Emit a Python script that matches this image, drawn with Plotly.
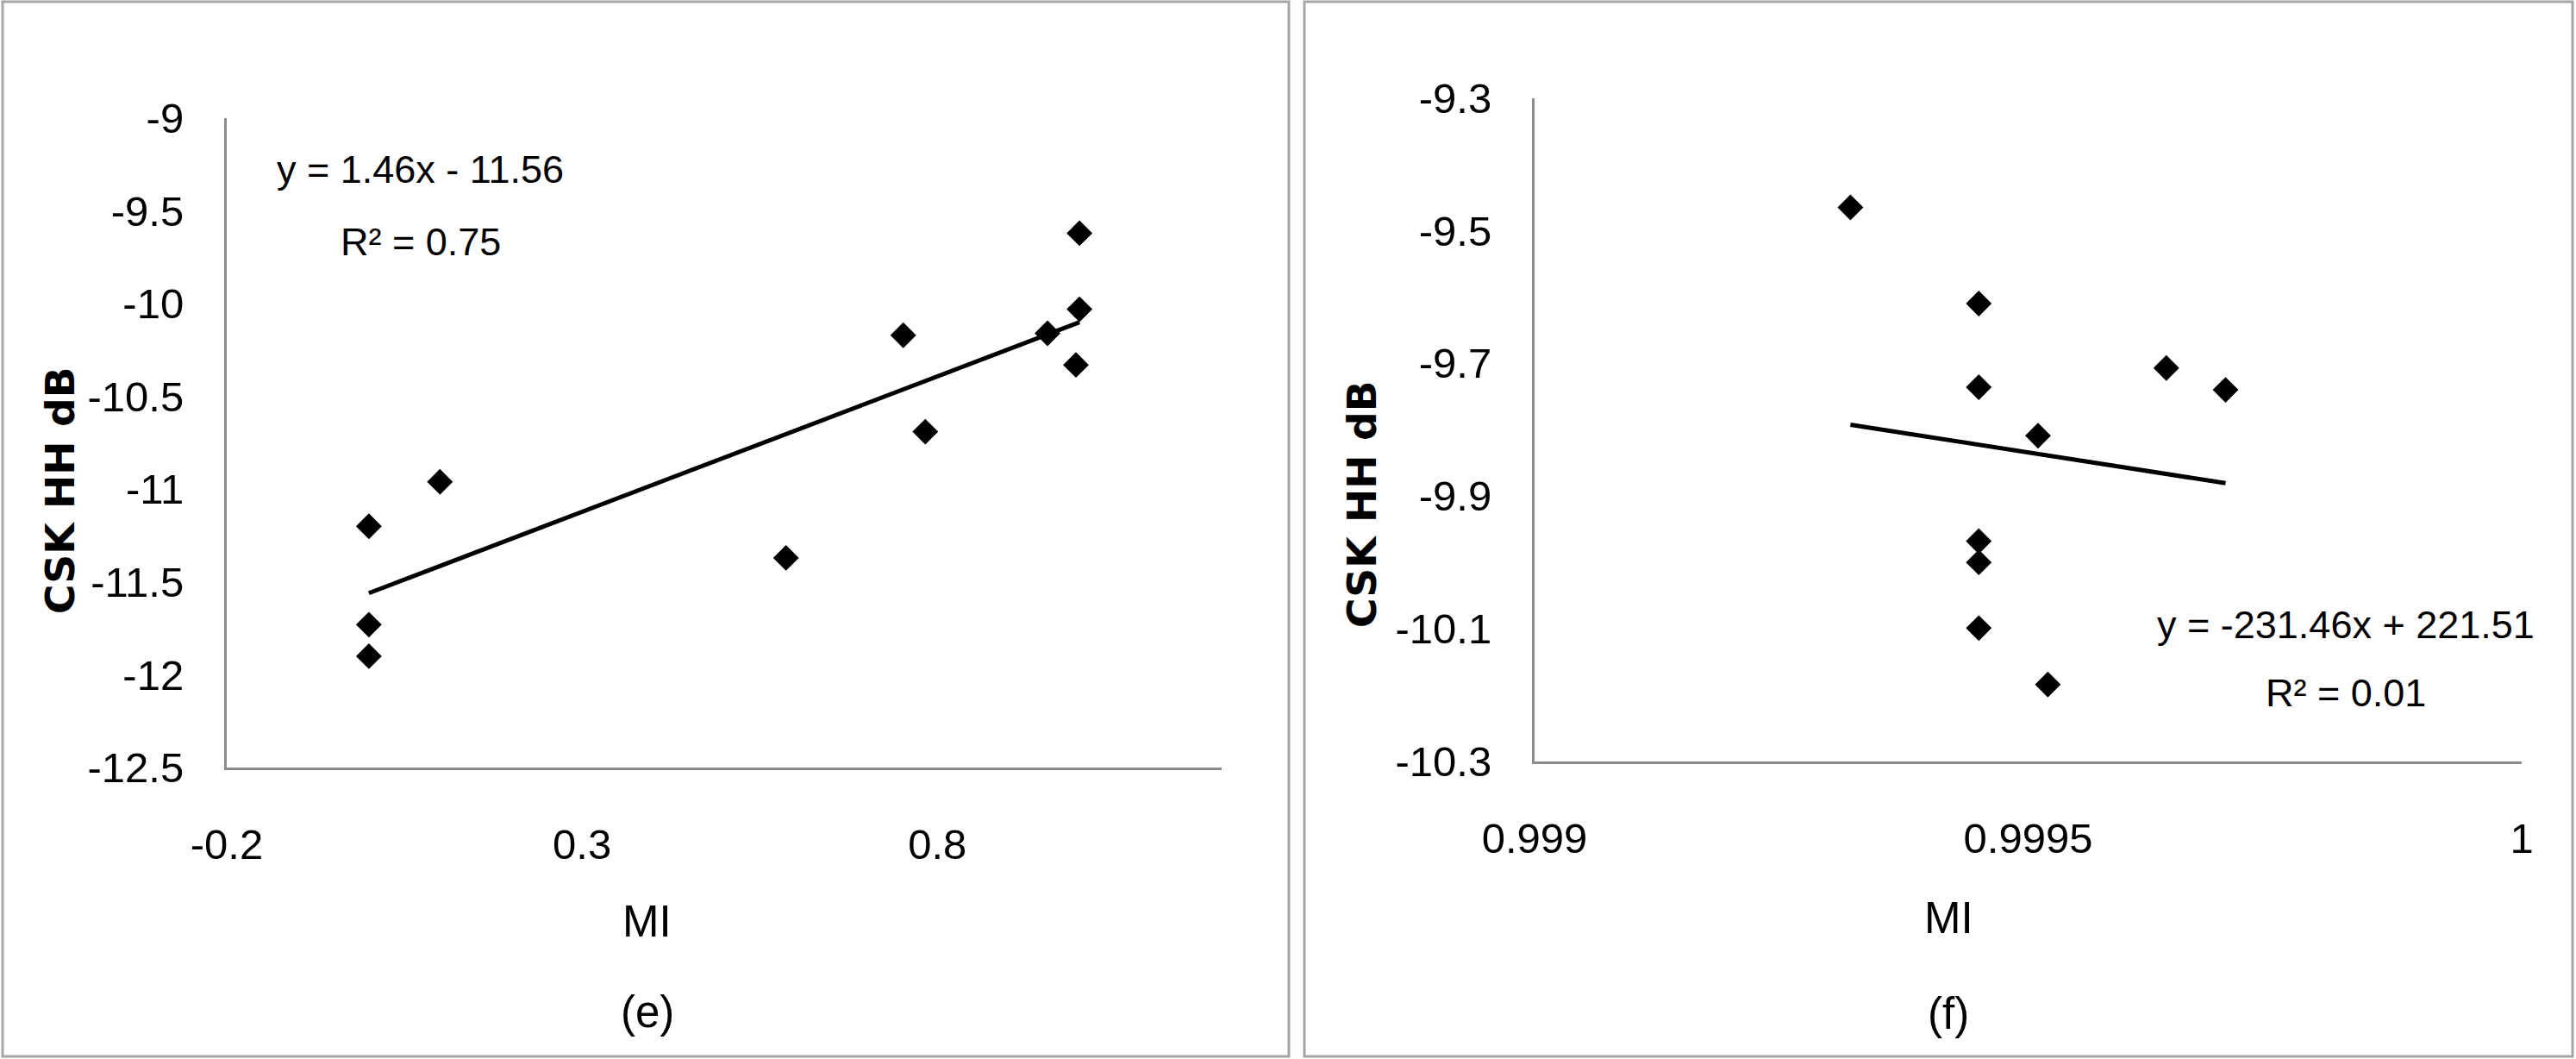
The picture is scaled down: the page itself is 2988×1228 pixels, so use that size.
import plotly.graph_objects as go

W, H = 2988, 1228

# ---------------- data: panel (e) ----------------
e_mi = [0.0, 0.0, 0.0, 0.10, 0.587, 0.752, 0.783, 0.955, 1.0, 1.0, 0.995]
e_hh = [-11.20, -11.73, -11.90, -10.96, -11.37, -10.17, -10.69, -10.16, -9.62, -10.03, -10.33]
e_slope, e_intercept = 1.46, -11.56
e_eq = "y = 1.46x - 11.56"
e_r2 = "R² = 0.75"
e_xtickvals = [-0.2, 0.3, 0.8]
e_xticktext = ["-0.2", "0.3", "0.8"]
e_ytickvals = [-9, -9.5, -10, -10.5, -11, -11.5, -12, -12.5]
e_yticktext = ["-9", "-9.5", "-10", "-10.5", "-11", "-11.5", "-12", "-12.5"]
e_label = "(e)"

# ---------------- data: panel (f) ----------------
f_mi = [0.99932, 0.99945, 0.99945, 0.99945, 0.99945, 0.99945, 0.99951, 0.99952, 0.99964, 0.99970]
f_hh = [-9.465, -9.61, -9.736, -9.968, -10.0, -10.099, -9.809, -10.184, -9.707, -9.74]
f_slope, f_intercept = -231.46, 221.51
f_eq = "y = -231.46x + 221.51"
f_r2 = "R² = 0.01"
f_xtickvals = [0.999, 0.9995, 1.0]
f_xticktext = ["0.999", "0.9995", "1"]
f_ytickvals = [-9.3, -9.5, -9.7, -9.9, -10.1, -10.3]
f_yticktext = ["-9.3", "-9.5", "-9.7", "-9.9", "-10.1", "-10.3"]
f_label = "(f)"

x_title = "MI"
y_title = "CSK HH dB"

FONT = "Liberation Sans, Arial, sans-serif"
BOLD = "DejaVu Sans, Liberation Sans, sans-serif"
AXIS_GRAY = "#8c8c8c"


def px(x):
    return x / W


def py(y):
    return 1 - y / H


fig = go.Figure()

# scatter points
fig.add_trace(go.Scatter(x=e_mi, y=e_hh, mode="markers",
                         marker=dict(symbol="diamond", size=23, color="black"),
                         xaxis="x", yaxis="y", showlegend=False))
fig.add_trace(go.Scatter(x=f_mi, y=f_hh, mode="markers",
                         marker=dict(symbol="diamond", size=23, color="black"),
                         xaxis="x2", yaxis="y2", showlegend=False))

# trendlines
e_tx = [min(e_mi), max(e_mi)]
e_ty = [e_slope * v + e_intercept for v in e_tx]
fig.add_trace(go.Scatter(x=e_tx, y=e_ty, mode="lines",
                         line=dict(color="black", width=5),
                         xaxis="x", yaxis="y", showlegend=False))
f_tx = [min(f_mi), max(f_mi)]
f_ty = [f_slope * v + f_intercept for v in f_tx]
fig.add_trace(go.Scatter(x=f_tx, y=f_ty, mode="lines",
                         line=dict(color="black", width=5),
                         xaxis="x2", yaxis="y2", showlegend=False))

tickfont = dict(family=FONT, size=49, color="black")

common_axis = dict(showgrid=False, zeroline=False, showline=True,
                   linecolor=AXIS_GRAY, linewidth=3, ticks="",
                   tickfont=tickfont, fixedrange=True, automargin=False)

fig.update_layout(
    width=W, height=H,
    margin=dict(l=0, r=0, t=0, b=0, autoexpand=False),
    paper_bgcolor="white", plot_bgcolor="white",
    showlegend=False,
    xaxis=dict(domain=[px(263), px(1417)], range=[-0.2, 1.2],
               tickvals=e_xtickvals, ticktext=e_xticktext,
               ticklabelstandoff=44, anchor="y", **common_axis),
    yaxis=dict(domain=[py(890), py(137)], range=[-12.5, -9],
               tickvals=e_ytickvals, ticktext=e_yticktext,
               ticklabelstandoff=37, anchor="x", **common_axis),
    xaxis2=dict(domain=[px(1780), px(2925)], range=[0.999, 1.0],
                tickvals=f_xtickvals, ticktext=f_xticktext,
                ticklabelstandoff=44, anchor="y2", **common_axis),
    yaxis2=dict(domain=[py(883), py(113.5)], range=[-10.3, -9.3],
                tickvals=f_ytickvals, ticktext=f_yticktext,
                ticklabelstandoff=37, anchor="x2", **common_axis),
)

# panel borders
fig.add_shape(type="rect", xref="paper", yref="paper",
              x0=px(3), x1=px(1495), y0=py(1225), y1=py(2),
              line=dict(color="#a6a6a6", width=3), layer="below")
fig.add_shape(type="rect", xref="paper", yref="paper",
              x0=px(1513), x1=px(2984), y0=py(1225), y1=py(2),
              line=dict(color="#a6a6a6", width=3), layer="below")


def ann(text, x, y, size, family=FONT, angle=0):
    fig.add_annotation(text=text, x=px(x), y=py(y), xref="paper", yref="paper",
                       xanchor="center", yanchor="middle", showarrow=False,
                       textangle=angle,
                       font=dict(family=family, size=size, color="black"))


# equations
ann(e_eq, 487, 197, 45)
ann(e_r2, 488, 280, 45)
ann(f_eq, 2721, 724, 45)
ann(f_r2, 2721, 803, 45)

# axis titles
ann(x_title, 750, 1068, 51)
ann(x_title, 2260, 1064, 51)
ann("<b>" + y_title + "</b>", 69, 569, 47, family=BOLD, angle=-90)
ann("<b>" + y_title + "</b>", 1579, 585, 47, family=BOLD, angle=-90)

# panel labels
ann(e_label, 751, 1173, 51)
ann(f_label, 2260, 1175, 51)

fig.write_html("out.html",
               config={"displayModeBar": False},
               post_script="document.body.style.margin='0';document.body.style.overflow='hidden';")
